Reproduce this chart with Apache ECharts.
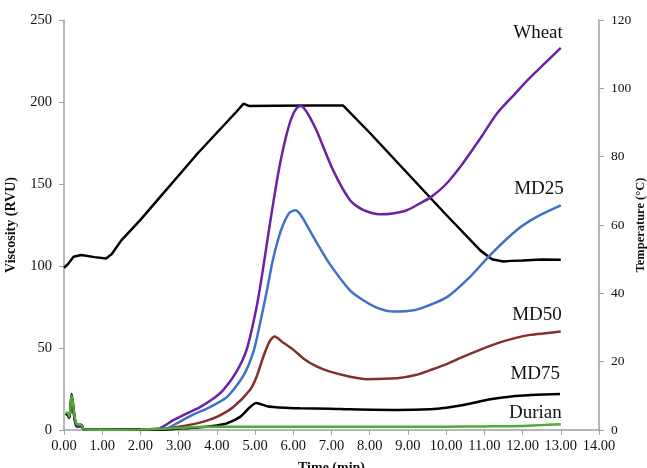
<!DOCTYPE html>
<html>
<head>
<meta charset="utf-8">
<script src="https://cdn.jsdelivr.net/npm/echarts@6/dist/echarts.min.js"></script>
<style>
html,body{margin:0;padding:0;background:#fff;}
#chart{width:647px;height:468px;}
</style>
</head>
<body>
<div id="chart"></div>
<script>
// Time (min) ticks
const xTicks = [0,1,2,3,4,5,6,7,8,9,10,11,12,13,14];
const viscosityTicks = [0,50,100,150,200,250];
const temperatureTicks = [0,20,40,60,80,100,120];

// Temperature profile (°C) [time, temp]
const temperature = [[0,47.5],[0.1,48.5],[0.25,50.7],[0.45,51.2],[0.8,50.6],[1.1,50.2],[1.25,51.5],[1.5,55.5],[2.0,61.5],[2.5,68],[3.0,74.5],[3.5,81],[4.0,87],[4.5,93],[4.7,95.5],[4.85,94.8],[5.5,94.9],[6.5,95],[7.3,95],[8.0,87],[9.0,75],[10.0,63],[10.9,52.5],[11.2,50],[11.5,49.3],[11.7,49.5],[12.0,49.6],[12.5,49.9],[13.0,49.8]];

// Viscosity (RVU) [time, value]
const wheat = [[0.05,10],[0.1,9],[0.14,7.5],[0.2,20],[0.28,6],[0.33,2],[0.46,2],[0.52,0.3],[1,0.2],[2,0.4],[2.5,1],[2.86,6],[3.2,10],[3.56,14],[3.9,19],[4.17,24.5],[4.5,35],[4.78,49],[5.04,75],[5.2,97],[5.35,120],[5.5,142],[5.65,162],[5.8,178],[5.95,190],[6.08,196],[6.2,197.5],[6.32,195],[6.45,190],[6.62,182],[7.05,158],[7.49,140],[7.84,134],[8.27,131.5],[8.6,132],[8.97,134],[9.3,138],[9.6,142],[10.0,150],[10.45,163],[10.9,178],[11.33,193],[11.8,205],[12.2,215],[12.6,224],[13.0,233]];
const md25 = [[0.05,10],[0.1,9],[0.14,7.5],[0.2,20],[0.28,7],[0.33,3],[0.46,3],[0.52,0.3],[1,0.2],[2,0.3],[2.5,0.4],[2.69,1],[2.95,4],[3.3,8.5],[3.82,14],[4.26,20],[4.69,33],[4.96,48],[5.13,65],[5.31,85],[5.45,102],[5.6,116],[5.75,126],[5.9,132.5],[6.05,134],[6.2,131],[6.4,123],[6.62,114],[6.96,101],[7.49,85],[7.84,79],[8.2,74.5],[8.62,72.2],[9.0,72.5],[9.32,74],[10.02,81],[10.63,93.5],[11.15,106.7],[11.85,122],[12.37,130],[13.0,137]];
const md50 = [[0.05,10],[0.1,9],[0.14,7.5],[0.2,20],[0.28,7],[0.33,3],[0.46,3],[0.52,0.3],[1,0.2],[2,0.3],[2.5,0.3],[2.77,1],[3.12,2.4],[3.56,4.5],[4.0,8],[4.43,14],[4.87,24.5],[5.04,32.5],[5.22,45],[5.38,54],[5.51,57],[5.75,53],[6.0,49],[6.3,43],[6.62,38.6],[6.96,35.6],[7.49,32.5],[7.92,31],[8.71,31.5],[9.2,33.5],[9.58,36.5],[10.0,40],[10.45,44.7],[10.9,49],[11.33,52.8],[11.8,56],[12.2,58],[12.6,59],[13.0,60]];
const md75 = [[0.05,10],[0.1,9],[0.14,7.5],[0.2,22],[0.28,7],[0.33,3],[0.46,3],[0.52,0.3],[1,0.2],[2,0.3],[2.5,0.2],[3.12,1],[3.56,1.6],[4.0,2.8],[4.26,4],[4.61,8],[4.87,14],[5.03,16.5],[5.31,14.5],[5.8,13.5],[6.18,13.2],[6.96,13],[7.49,12.6],[8.71,12.2],[9.58,12.6],[10.0,13.5],[10.45,15.2],[10.9,17.5],[11.33,19.3],[11.8,20.8],[12.2,21.3],[12.98,22]];
const durian = [[0.05,11],[0.1,10],[0.14,8],[0.2,21],[0.28,8],[0.33,3.5],[0.46,3],[0.52,0.3],[1,0.2],[2,0.3],[2.5,0.6],[3,1.2],[3.5,1.8],[4,2],[5,2],[6,2],[7,2],[8,2],[9,2],[10,2],[11,2.2],[12,2.5],[13,3.5]];

const seriesNames = ['Wheat','MD25','MD50','MD75','Durian'];
const seriesData = [wheat, md25, md50, md75, durian];
const seriesColors = ['#6B22A3','#3F72C6','#83302C','#000000','#4DAA3B'];
const labelOffsets = [[2,-15],[3,-16],[1,-17],[0,-20],[1,-11]];

const chart = echarts.init(document.getElementById('chart'));
const FONT = '"Liberation Serif","Times New Roman",serif';
const axisGray = '#A0A0A0';

const series = [{
  name: 'Temperature',
  type: 'line',
  yAxisIndex: 1,
  data: temperature,
  showSymbol: false,
  smooth: false,
  lineStyle: {color: '#000', width: 2.5},
  z: 2
}];
seriesData.forEach((d, i) => {
  series.push({
    name: seriesNames[i],
    type: 'line',
    yAxisIndex: 0,
    data: d,
    showSymbol: false,
    smooth: 0.25,
    lineStyle: {color: seriesColors[i], width: 2.5},
    z: 3 + i
  });
});

chart.setOption({
  animation: false,
  backgroundColor: '#fff',
  grid: {left: 64, right: 48, top: 20, bottom: 38, containLabel: false, outerBoundsMode: 'none'},
  xAxis: {
    type: 'value', min: xTicks[0], max: xTicks[xTicks.length-1], interval: 1,
    name: 'Time (min)', nameLocation: 'middle', nameGap: 31, nameMoveOverlap: false,
    nameTextStyle: {fontFamily: FONT, fontWeight: 'bold', fontSize: 14, color: '#111'},
    axisLine: {lineStyle: {color: axisGray, width: 1.5}},
    axisTick: {show: true, inside: false, length: 5, lineStyle: {color: axisGray}},
    axisLabel: {fontFamily: FONT, fontSize: 14.5, color: '#111', margin: 9, formatter: v => v.toFixed(2)},
    splitLine: {show: false}
  },
  yAxis: [{
    type: 'value', min: 0, max: 250, interval: 50,
    name: 'Viscosity (RVU)', nameLocation: 'middle', nameGap: 46, nameRotate: 90, nameMoveOverlap: false,
    nameTextStyle: {fontFamily: FONT, fontWeight: 'bold', fontSize: 14, color: '#111'},
    axisLine: {show: true, lineStyle: {color: axisGray, width: 1.5}},
    axisTick: {show: true, length: 5, lineStyle: {color: axisGray}},
    axisLabel: {fontFamily: FONT, fontSize: 14.5, color: '#111', margin: 12},
    splitLine: {show: false}
  }, {
    type: 'value', min: 0, max: 120, interval: 20, position: 'right',
    name: 'Temperature (°C)', nameLocation: 'middle', nameGap: 35, nameRotate: 90, nameMoveOverlap: false,
    nameTextStyle: {fontFamily: FONT, fontWeight: 'bold', fontSize: 12.5, color: '#111'},
    axisLine: {show: true, lineStyle: {color: axisGray, width: 1.5}},
    axisTick: {show: true, length: 5, lineStyle: {color: axisGray}},
    axisLabel: {fontFamily: FONT, fontSize: 13.5, color: '#111', margin: 12},
    splitLine: {show: false}
  }],
  series: series
});

// Series name labels anchored at each curve's last data point
const graphics = [];
seriesData.forEach((d, i) => {
  const last = d[d.length-1];
  const p = chart.convertToPixel({gridIndex: 0}, last);
  graphics.push({
    type: 'text',
    x: p[0] + labelOffsets[i][0],
    y: p[1] + labelOffsets[i][1],
    style: {text: seriesNames[i], font: '19px ' + FONT, fill: '#111', textAlign: 'right', textVerticalAlign: 'middle'},
    z: 10
  });
});
chart.setOption({graphic: graphics});
</script>
</body>
</html>
